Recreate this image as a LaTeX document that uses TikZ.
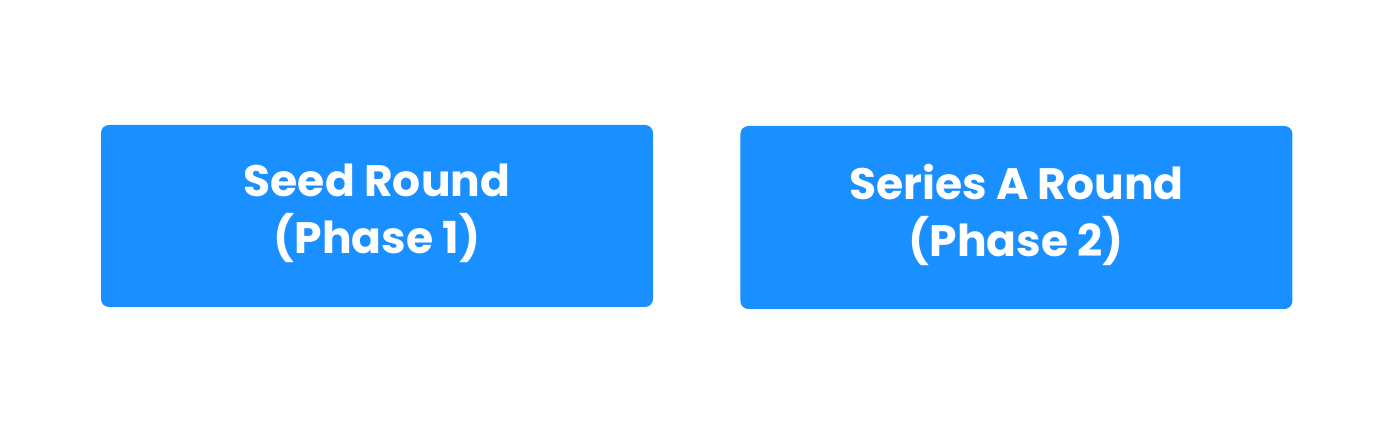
\documentclass[tikz,border=0pt]{standalone}
\usepackage{fontspec}
\setmainfont{Poppins}
\usepackage{xcolor}
\usetikzlibrary{positioning}
\definecolor{phaseblue}{HTML}{1A8FFF}
\tikzset{phasebox/.style={fill=phaseblue, draw=none, rounded corners=8pt,
           minimum width=552pt, minimum height=182pt, inner sep=0pt,
           text depth=15pt,
           text=white, align=center, font=\fontsize{44}{57}\selectfont\bfseries}
        }

\begin{document}
\begin{tikzpicture}[x=1pt,y=1pt]
\useasboundingbox[fill=white] (0,0) rectangle (1374,434);
\node[phasebox] at (377,218)(seed){Seed Round\\(Phase 1)};
\node[phasebox, right=87pt of seed, yshift=-1.5pt, minimum height=183pt](seriesa){Series A Round\\(Phase 2)};
\end{tikzpicture}
\end{document}
